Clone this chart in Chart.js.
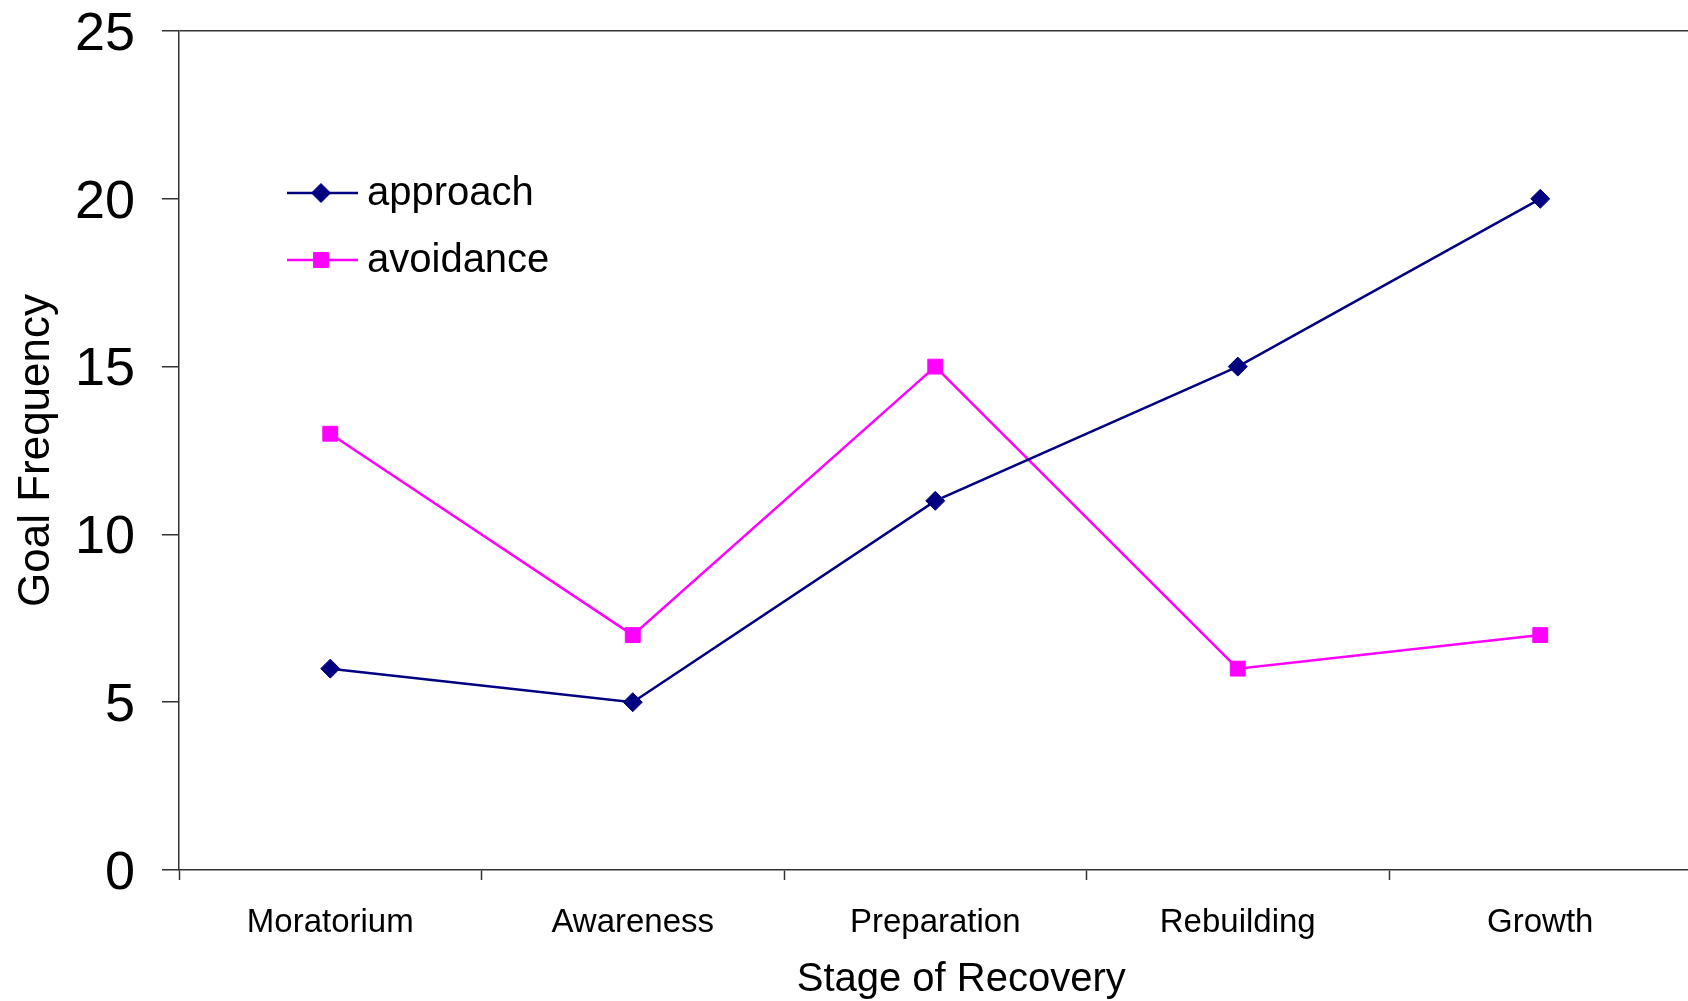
<!DOCTYPE html>
<html>
<head>
<meta charset="utf-8">
<script src="https://cdn.jsdelivr.net/npm/chart.js@4"></script>
<style>
  html, body { margin: 0; padding: 0; overflow: hidden; background: #fff; }
  #wrap { width: 1703px; height: 1001px; position: relative; }
</style>
</head>
<body>
<div id="wrap"><canvas id="chart"></canvas></div>
<script>
// Goal frequency by stage of recovery

const stages = ["Moratorium", "Awareness", "Preparation", "Rebuilding", "Growth"];
const approach = [6, 5, 11, 15, 20];
const avoidance = [13, 7, 15, 6, 7];
const yTicks = [0, 5, 10, 15, 20, 25];
const xTitle = "Stage of Recovery";
const yTitle = "Goal Frequency";

const FONT = "'Liberation Sans', Arial, Helvetica, sans-serif";
const AXIS = "#333333";

// legend inside the plot area (top-left) + x axis title, a bit right of centre like the original
const extras = {
  id: "extras",
  afterDraw(chart) {
    const ctx = chart.ctx;
    const a = chart.chartArea;
    const rows = [a.top + 162, a.top + 229];
    chart.data.datasets.forEach((ds, i) => {
      const y = rows[i];
      const x0 = a.left + 108;
      ctx.save();
      ctx.strokeStyle = ds.borderColor;
      ctx.lineWidth = ds.borderWidth;
      ctx.beginPath();
      ctx.moveTo(x0, y);
      ctx.lineTo(x0 + 71, y);
      ctx.stroke();
      ctx.fillStyle = ds.pointBackgroundColor;
      ctx.strokeStyle = ds.pointBorderColor;
      ctx.lineWidth = ds.pointBorderWidth;
      Chart.helpers.drawPoint(ctx, {
        pointStyle: ds.pointStyle, rotation: 0,
        radius: ds.pointRadius, borderWidth: ds.pointBorderWidth
      }, x0 + 34, y);
      ctx.fillStyle = "#000";
      ctx.font = "40px " + FONT;
      ctx.textBaseline = "middle";
      ctx.fillText(ds.label, x0 + 80, y + 1);
      ctx.restore();
    });

    ctx.save();
    ctx.fillStyle = "#000";
    ctx.font = "40px " + FONT;
    ctx.textAlign = "center";
    ctx.textBaseline = "alphabetic";
    ctx.fillText(xTitle, (a.left + a.right) / 2 + 26, chart.height - 10);
    ctx.restore();
  }
};

new Chart(document.getElementById("chart"), {
  type: "line",
  data: {
    labels: stages,
    datasets: [
      {
        label: "approach",
        data: approach,
        borderColor: "#000080",
        borderWidth: 2.5,
        pointStyle: "rectRot",
        pointRadius: 9.5,
        pointBorderWidth: 1,
        pointBackgroundColor: "#000080",
        pointBorderColor: "#000080",
        tension: 0
      },
      {
        label: "avoidance",
        data: avoidance,
        borderColor: "#FF00FF",
        borderWidth: 2.5,
        pointStyle: "rect",
        pointRadius: 10.5,
        pointBorderWidth: 1,
        pointBackgroundColor: "#FF00FF",
        pointBorderColor: "#FF00FF",
        tension: 0
      }
    ]
  },
  options: {
    responsive: true,
    maintainAspectRatio: false,
    animation: false,
    layout: { padding: { top: 31, left: 0, right: 0, bottom: 0 } },
    plugins: {
      legend: { display: false },
      tooltip: { enabled: false }
    },
    scales: {
      x: {
        type: "category",
        offset: true,
        grid: {
          offset: true,
          drawOnChartArea: false,
          tickLength: 10,
          tickColor: AXIS,
          tickWidth: 1.5
        },
        border: { color: AXIS, width: 1.5 },
        ticks: {
          color: "#000",
          padding: 23,
          maxRotation: 0,
          font: { family: FONT, size: 33 }
        },
        title: { display: false },
        afterFit: s => { s.height = 131; s.paddingLeft = 0; s.paddingRight = 0; }
      },
      y: {
        min: 0,
        max: 25,
        afterBuildTicks: s => { s.ticks = yTicks.map(v => ({ value: v })); },
        grid: {
          color: c => (c.tick && c.tick.value === 25 ? AXIS : "rgba(0,0,0,0)"),
          lineWidth: 1.5,
          tickLength: 17,
          tickColor: AXIS,
          tickWidth: 1.5
        },
        border: { color: AXIS, width: 1.5 },
        ticks: {
          color: "#000",
          padding: 27,
          labelOffset: 4,
          font: { family: FONT, size: 54, lineHeight: 1 }
        },
        title: {
          display: true,
          text: yTitle,
          color: "#000",
          padding: { top: 10, bottom: 0 },
          font: { family: FONT, size: 44 }
        },
        afterFit: s => { s.width = 179; s.paddingTop = 0; s.paddingBottom = 0; }
      }
    }
  },
  plugins: [extras]
});
</script>
</body>
</html>
